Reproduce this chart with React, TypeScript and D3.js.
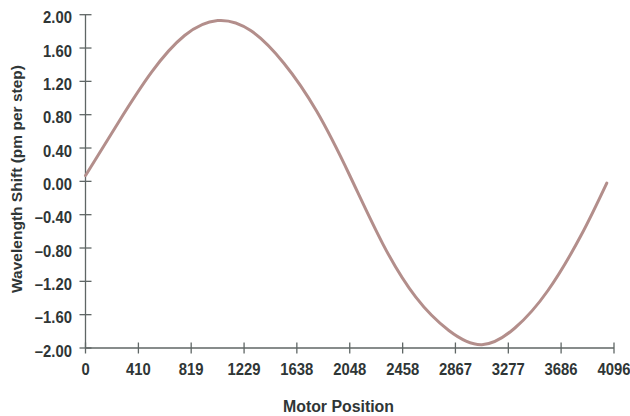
import React from "react";
import * as d3 from "d3";

// Wavelength shift per motor step across one motor revolution
const motorPosition = [
  0, 256, 512, 768, 1024, 1280, 1536, 1792, 2048, 2304, 2560, 2816, 3072, 3328,
  3584, 3840, 4040,
];
const wavelengthShift = [
  0.07, 0.71, 1.31, 1.75, 1.93, 1.81, 1.42, 0.84, 0.07, -0.75, -1.39, -1.79,
  -1.96, -1.76, -1.31, -0.65, -0.02,
];

const xTicks = [0, 410, 819, 1229, 1638, 2048, 2458, 2867, 3277, 3686, 4096];
const yTicks = [2, 1.6, 1.2, 0.8, 0.4, 0, -0.4, -0.8, -1.2, -1.6, -2];

const W = 630;
const H = 416;
const FONT = "'Liberation Sans', Arial, sans-serif";
const AXIS = "#5f6665";
const TEXT = "#2f3636";
const CURVE = "#b38e8b";
const SQUEEZE = 0.9;

export default function App() {
  const x = d3.scaleLinear().domain([0, 4096]).range([85.5, 614]);
  const y = d3.scaleLinear().domain([-2, 2]).range([348, 14.7]);

  const points = motorPosition.map((p, i) => [p, wavelengthShift[i]] as [number, number]);
  const line = d3
    .line<[number, number]>()
    .x((d) => x(d[0]))
    .y((d) => y(d[1]))
    .curve(d3.curveNatural);

  const fmt = d3.format(".2f");
  const yLabel = (v: number) => (v < 0 ? "\u2013" + fmt(-v) : fmt(v));

  return (
    <svg
      width={W}
      height={H}
      style={{ position: "absolute", left: 0, top: 0, background: "#fff" }}
      fontFamily={FONT}
      fontWeight="bold"
    >
      <rect width={W} height={H} fill="#fff" />

      {/* y axis */}
      <line x1={x(0)} x2={x(0)} y1={y(2)} y2={y(-2)} stroke={AXIS} strokeWidth={1.3} />
      {yTicks.map((t) => (
        <g key={"y" + t}>
          <line x1={x(0) - 6} x2={x(0) + 6} y1={y(t)} y2={y(t)} stroke={AXIS} strokeWidth={1.3} />
          <g transform={`translate(72, ${y(t) + 3}) scale(${SQUEEZE}, 1)`}>
            <text textAnchor="end" dominantBaseline="central" fontSize={16.5} fill={TEXT}>
              {yLabel(t)}
            </text>
          </g>
        </g>
      ))}

      {/* x axis */}
      <line x1={x(0)} x2={x(4096)} y1={y(-2)} y2={y(-2)} stroke={AXIS} strokeWidth={1.3} />
      {xTicks.map((t) => (
        <g key={"x" + t}>
          <line x1={x(t)} x2={x(t)} y1={y(-2) - 5.5} y2={y(-2) + 5.5} stroke={AXIS} strokeWidth={1.3} />
          <g transform={`translate(${x(t)}, 375) scale(${SQUEEZE}, 1)`}>
            <text textAnchor="middle" fontSize={16.5} fill={TEXT}>
              {t}
            </text>
          </g>
        </g>
      ))}

      {/* curve */}
      <path d={line(points) || ""} fill="none" stroke={CURVE} strokeWidth={3} strokeLinecap="round" />

      {/* axis titles */}
      <text
        x={338.5}
        y={411.7}
        textAnchor="middle"
        fontSize={16}
        fill={TEXT}
        textLength={111}
        lengthAdjust="spacingAndGlyphs"
      >
        Motor Position
      </text>
      <text
        transform="translate(21.5, 179) rotate(-90)"
        textAnchor="middle"
        fontSize={15.5}
        fill={TEXT}
        textLength={228}
        lengthAdjust="spacingAndGlyphs"
      >
        Wavelength Shift (pm per step)
      </text>
    </svg>
  );
}
